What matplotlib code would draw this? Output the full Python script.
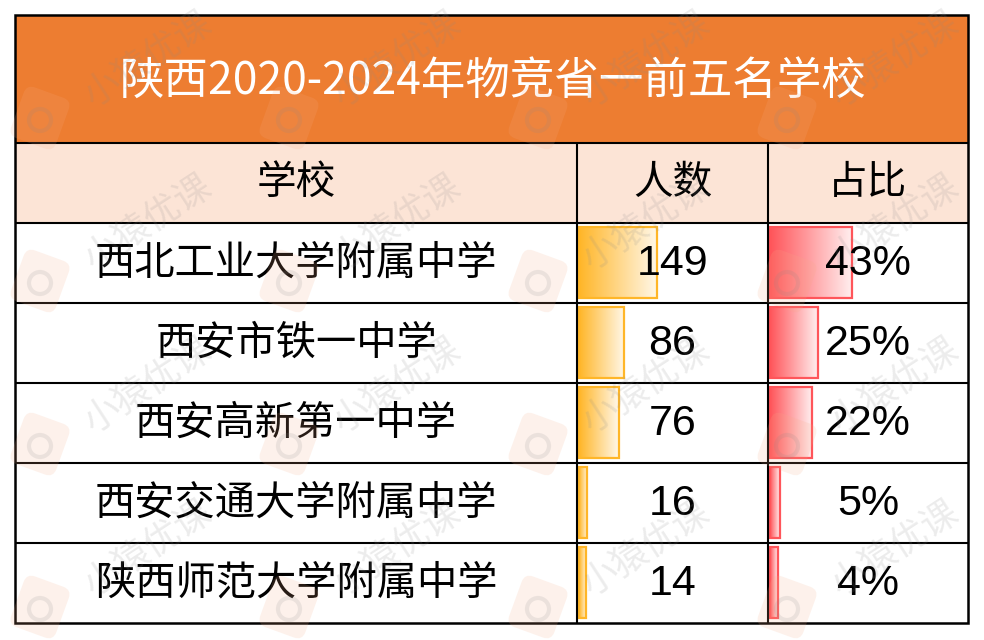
import numpy as np
import matplotlib
matplotlib.use('Agg')
import matplotlib.pyplot as plt
import matplotlib.transforms as mtransforms
from matplotlib.patches import Rectangle, FancyBboxPatch, Circle
from matplotlib.colors import LinearSegmentedColormap, to_rgb

plt.rcParams['font.family'] = ['Noto Sans CJK SC', 'DejaVu Sans']

# data
title = '陕西2020-2024年物竞省一前五名学校'
headers = ['学校', '人数', '占比']
schools = ['西北工业大学附属中学', '西安市铁一中学', '西安高新第一中学',
           '西安交通大学附属中学', '陕西师范大学附属中学']
counts = [149, 86, 76, 16, 14]
shares = [43, 25, 22, 5, 4]

# layout in pixels
W, H = 984, 640
LEFT, RIGHT = 15, 968
COLS = [LEFT, 577, 768, RIGHT]
TITLE_TOP, HEAD_TOP, BODY_TOP, ROW_H = 15, 143, 223, 80
BOTTOM = BODY_TOP + ROW_H * len(schools)
BAR_FRAC = 0.41
LW = 1.5

fig = plt.figure(figsize=(W / 100, H / 100), dpi=100)
ax = fig.add_axes([0, 0, 1, 1])
ax.axis('off')

# backgrounds
ax.add_patch(Rectangle((LEFT, TITLE_TOP), RIGHT - LEFT, HEAD_TOP - TITLE_TOP,
                       fc='#ED7D31', ec='none', zorder=0))
ax.add_patch(Rectangle((LEFT, HEAD_TOP), RIGHT - LEFT, BODY_TOP - HEAD_TOP,
                       fc='#FCE4D6', ec='none', zorder=0))


def data_bars(values, x0, x1, color):
    scale = BAR_FRAC * (x1 - x0) / max(values)
    light = tuple(c + (1 - c) * 0.9 for c in to_rgb(color))
    cmap = LinearSegmentedColormap.from_list('bar', [color, light])
    grad = np.linspace(0, 1, 128).reshape(1, -1)
    ys = [BODY_TOP + ROW_H * (i + 0.5) - 1 for i in range(len(values))]
    bars = ax.barh(ys, [v * scale for v in values], height=ROW_H - 9,
                   left=x0 + 2, color='none', edgecolor=color, linewidth=1.6,
                   zorder=3)
    for b in bars:
        x, y, w, h = b.get_x(), b.get_y(), b.get_width(), b.get_height()
        ax.imshow(grad, cmap=cmap, extent=(x, x + w, y + h, y),
                  aspect='auto', zorder=2, interpolation='bilinear')


data_bars(counts, COLS[1], COLS[2], '#FFB628')
data_bars(shares, COLS[2], COLS[3], '#FF555A')

# grid lines
for y in [HEAD_TOP, BODY_TOP] + [BODY_TOP + ROW_H * k for k in range(1, len(schools))]:
    ax.plot([LEFT, RIGHT], [y, y], color='black', lw=LW, zorder=4,
            solid_capstyle='butt')
for x in COLS[1:3]:
    ax.plot([x, x], [HEAD_TOP, BOTTOM], color='black', lw=LW, zorder=4,
            solid_capstyle='butt')
ax.add_patch(Rectangle((LEFT, TITLE_TOP), RIGHT - LEFT, BOTTOM - TITLE_TOP,
                       fill=False, ec='black', lw=LW + 0.3, zorder=5))

# texts
ax.text((LEFT + RIGHT) / 2 + 2, (TITLE_TOP + HEAD_TOP) / 2 + 3, title,
        color='white', fontsize=32, ha='center', va='center', zorder=6)
centers = [(COLS[i] + COLS[i + 1]) / 2 for i in range(3)]
for cx, h in zip(centers, headers):
    ax.text(cx, (HEAD_TOP + BODY_TOP) / 2, h, fontsize=28.5,
            ha='center', va='center', zorder=6)
num_font = ['Liberation Sans', 'Noto Sans CJK SC']
for i, (s, c, p) in enumerate(zip(schools, counts, shares)):
    yc = BODY_TOP + ROW_H * (i + 0.5)
    ax.text(centers[0], yc, s, fontsize=29, ha='center', va='center', zorder=6)
    ax.text(centers[1], yc + 1, str(c), fontsize=31, family=num_font,
            ha='center', va='center', zorder=6)
    ax.text(centers[2], yc + 1, f'{p}%', fontsize=31, family=num_font,
            ha='center', va='center', zorder=6)

# watermark
for i in range(-1, 5):
    for j in range(-1, 5):
        lx, ly = 40 + 249 * i, 118 + 163 * j
        rot = mtransforms.Affine2D().rotate_deg_around(lx, ly, 20) + ax.transData
        ax.add_patch(FancyBboxPatch((lx - 24, ly - 27), 48, 54,
                                    boxstyle='round,pad=0,rounding_size=9',
                                    fc='#F6AC86', ec='none', alpha=0.16,
                                    transform=rot, zorder=8))
        ax.add_patch(Circle((lx, ly + 2), 11, fill=False, ec='#8a8a8a',
                            lw=3, alpha=0.15, zorder=9))
        tx, ty = lx + 108, ly - 58
        if 70 < tx < W - 70 and 45 < ty < H - 45:
            ax.text(tx, ty, '小猿优课', fontsize=26, color='#8a8a8a',
                    alpha=0.16, rotation=33, ha='center', va='center', zorder=9)

ax.set_xlim(0, W)
ax.set_ylim(H, 0)
fig.savefig('out.png', dpi=100)
